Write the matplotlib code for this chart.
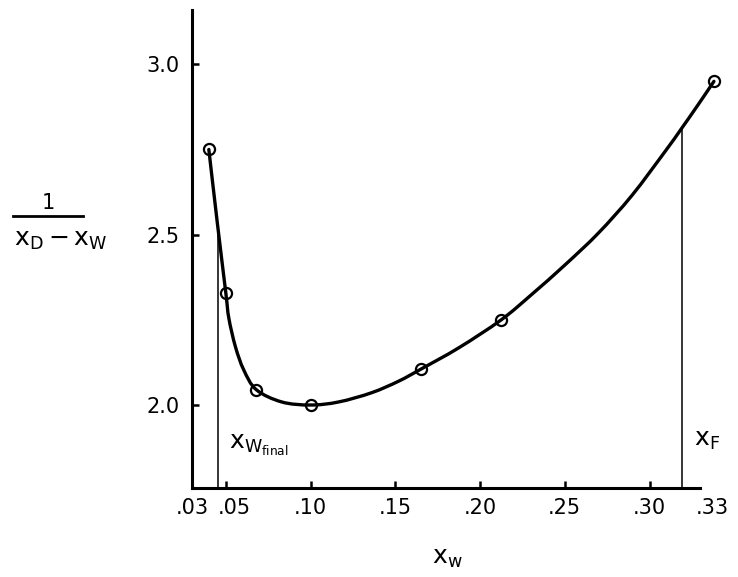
import numpy as np
import matplotlib.pyplot as plt
from matplotlib.lines import Line2D
from matplotlib.path import Path
from matplotlib.patches import PathPatch
from matplotlib.transforms import ScaledTranslation

# measured points (circles)
pts_x = [0.040, 0.050, 0.068, 0.100, 0.165, 0.2125, 0.338]
pts_y = [2.75, 2.33, 2.045, 2.00, 2.105, 2.25, 2.95]

# hand-drawn smooth curve
curve_x = [0.040, 0.045, 0.050, 0.0518, 0.0557, 0.0606, 0.068, 0.083, 0.100,
           0.1166, 0.136, 0.152, 0.165, 0.1875, 0.2125, 0.2306, 0.2503,
           0.2699, 0.2896, 0.3093, 0.3181, 0.3289, 0.338]
curve_y = [2.75, 2.535, 2.33, 2.255, 2.171, 2.103, 2.045, 2.009, 2.00,
           2.009, 2.036, 2.07, 2.105, 2.168, 2.25, 2.325, 2.412,
           2.505, 2.615, 2.745, 2.806, 2.883, 2.95]

x_w_final, y_w_final = 0.0453, 2.50
x_f, y_f = 0.319, 2.81

xtick_vals = [0.03, 0.05, 0.10, 0.15, 0.20, 0.25, 0.30, 0.33]
xtick_labels = ['.03', '.05', '.10', '.15', '.20', '.25', '.30', '.33']
ytick_vals = [2.0, 2.5, 3.0]
ytick_labels = ['2.0', '2.5', '3.0']

plt.rcParams['font.family'] = ['DejaVu Sans']
plt.rcParams['mathtext.fontset'] = 'dejavusans'

fig = plt.figure(figsize=(7.38, 5.77), dpi=100)
ax = fig.add_axes([0.260, 0.154, 0.689, 0.829])

ax.set_xlim(0.03, 0.33)
ax.set_ylim(1.756, 3.16)

for s in ['top', 'right']:
    ax.spines[s].set_visible(False)
for s in ['left', 'bottom']:
    ax.spines[s].set_linewidth(2.2)


def smooth_path(xs, ys):
    # Catmull-Rom through the read points, drawn as cubic bezier pieces
    # (done in display space so the x/y scales don't distort the tangents)
    P = ax.transData.transform(np.column_stack([xs, ys]))
    n = len(P)
    verts = [P[0]]
    codes = [Path.MOVETO]
    for i in range(n - 1):
        p0 = P[max(i - 1, 0)]
        p1 = P[i]
        p2 = P[i + 1]
        p3 = P[min(i + 2, n - 1)]
        c1 = p1 + (p2 - p0) / 6.0
        c2 = p2 - (p3 - p1) / 6.0
        verts += [c1, c2, p2]
        codes += [Path.CURVE4] * 3
    verts = ax.transData.inverted().transform(np.array(verts))
    return Path(verts, codes)


ax.add_patch(PathPatch(smooth_path(curve_x, curve_y), fill=False,
                       edgecolor='black', lw=2.4, clip_on=False,
                       joinstyle='round', capstyle='round'))
ax.plot(pts_x, pts_y, 'o', ms=8, mfc='none', mec='black', mew=1.6, clip_on=False)

# drop lines
ax.plot([x_w_final, x_w_final], [1.756, y_w_final], color='black', lw=1.1)
ax.plot([x_f, x_f], [1.756, y_f], color='black', lw=1.1)

ax.set_xticks(xtick_vals)
ax.set_xticklabels(xtick_labels)
ax.set_yticks(ytick_vals)
ax.set_yticklabels(ytick_labels)
ax.tick_params(direction='in', length=5, width=1.8, labelsize=15, pad=7)
ax.tick_params(axis='y', pad=9)
xt = ax.xaxis.get_major_ticks()
xt[0].tick1line.set_visible(False)
xt[-1].tick1line.set_visible(False)
for lab, dx in [(xt[1].label1, 9), (xt[-1].label1, 12)]:
    lab.set_transform(lab.get_transform() + ScaledTranslation(dx / 100, 0, fig.dpi_scale_trans))

ax.text(0.052, 1.87, r'$\mathregular{x_{W_{final}}}$', fontsize=18)
ax.text(0.3265, 1.88, r'$\mathregular{x_F}$', fontsize=18)

# y label as a fraction
fig.text(48 / 738, 1 - 203 / 577, '1', fontsize=15, ha='center', va='center')
fig.add_artist(Line2D([13 / 738, 83 / 738], [1 - 216 / 577, 1 - 216 / 577],
                      color='black', lw=2))
fig.text(14 / 738, 1 - 240 / 577, r'$\mathregular{x_D - x_W}$', fontsize=18,
         ha='left', va='center')

fig.text(447 / 738, 1 - 558 / 577, r'$\mathregular{x_w}$', fontsize=18,
         ha='center', va='center')

plt.savefig('out.png', dpi=100)
